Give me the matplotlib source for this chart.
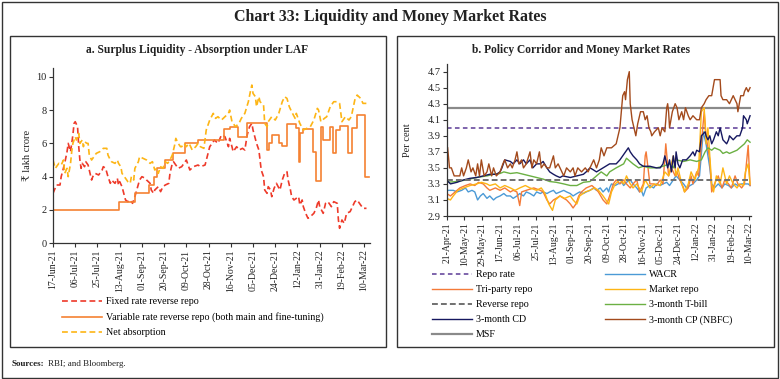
import matplotlib
matplotlib.use("Agg")
import matplotlib.pyplot as plt
from matplotlib.patches import Rectangle
import numpy as np
import pandas as pd

plt.rcParams["font.family"] = ["Liberation Serif", "DejaVu Serif", "DejaVu Sans"]

# ==========================
# panel a : surplus liquidity (lakh crore), days counted from 17-Jun-21
# ==========================
START_A = "2021-06-17"

fixed_days = [0, 3, 6, 7, 10, 12, 13, 15, 17, 18, 19, 21, 22, 23, 24, 25, 27, 28, 30, 31,
              33, 34, 36, 39, 42, 43, 45, 47, 49, 50, 53, 55, 56, 57, 59, 62, 64, 66, 68, 70,
              72, 74, 76, 79, 80, 83, 84, 86, 87, 90, 92, 94, 96, 99, 100, 102, 103, 105, 107, 110,
              112, 114, 116, 117, 120, 124, 126, 130, 134, 138, 141, 144, 147, 150, 151, 153, 154, 157, 159, 162,
              164, 166, 168, 170, 171, 174, 176, 177, 178, 180, 181, 183, 184, 186, 187, 189, 191, 194, 196, 198,
              200, 201, 203, 204, 206, 208, 210, 211, 213, 214, 216, 218, 220, 223, 225, 227, 228, 231, 233, 235,
              238, 240, 243, 244, 245, 247, 249, 251, 254, 256, 258, 260, 263, 265, 268]
fixed_vals = [3.0, 3.5, 3.5, 4.0, 4.8, 5.5, 6.0, 5.5, 6.5, 7.2, 7.3, 7.0, 5.8, 5.0, 4.5, 4.8, 4.6, 4.9, 4.7, 4.4,
              3.8, 4.0, 4.2, 4.1, 4.4, 4.6, 4.5, 4.0, 3.6, 3.8, 3.6, 3.9, 3.5, 3.7, 3.4, 2.6, 2.5, 2.6, 2.4, 2.8,
              3.3, 3.8, 4.0, 3.9, 3.8, 3.6, 3.2, 3.0, 3.2, 3.4, 3.1, 3.4, 3.5, 3.6, 4.2, 4.8, 4.9, 4.7, 4.5, 4.6,
              4.8, 5.0, 4.6, 4.4, 4.6, 4.7, 4.6, 4.7, 5.8, 6.2, 6.0, 6.5, 6.4, 5.8, 6.3, 5.8, 5.5, 5.8, 5.6, 5.7,
              5.6, 6.5, 7.0, 7.2, 6.8, 6.0, 5.6, 5.0, 4.4, 4.0, 3.2, 3.0, 3.4, 3.2, 2.8, 3.3, 3.6, 3.2, 3.8, 4.2,
              4.3, 3.8, 3.2, 2.8, 2.6, 2.7, 2.8, 2.3, 2.6, 2.2, 1.8, 1.5, 1.6, 1.8, 2.1, 2.6, 2.2, 1.8, 2.4, 2.5,
              2.2, 2.5, 2.4, 1.4, 0.9, 1.4, 1.2, 1.8, 1.9, 2.2, 2.5, 2.6, 2.3, 2.1, 2.1]

var_days = [0, 56, 70, 82, 86, 89, 96, 103, 113, 124, 146, 151, 158, 166, 183, 185, 187, 193, 196, 200,
            208, 210, 211, 214, 222, 225, 229, 231, 237, 239, 242, 245, 252, 256, 260, 267, 270]
var_vals = [2.0, 2.5, 3.0, 3.5, 4.0, 4.5, 5.0, 5.4, 6.0, 6.2, 6.85, 7.0, 6.4, 7.2, 5.6, 6.0, 6.5, 6.0, 5.85, 7.15,
            6.9, 4.9, 6.6, 6.85, 5.5, 3.75, 7.0, 6.2, 7.0, 5.4, 6.8, 7.05, 5.4, 6.95, 7.7, 4.0, 4.0]

net_days = [0, 2, 5, 7, 9, 10, 12, 13, 15, 16, 17, 19, 20, 22, 23, 25, 26, 27, 29, 30,
            31, 33, 35, 37, 40, 43, 46, 47, 49, 50, 53, 55, 56, 58, 59, 61, 63, 64, 66, 67,
            69, 70, 73, 74, 77, 80, 83, 85, 87, 89, 90, 92, 94, 96, 98, 100, 102, 104, 105, 107,
            109, 110, 112, 114, 116, 117, 119, 122, 124, 126, 129, 131, 134, 137, 139, 141, 144, 147, 150, 151,
            153, 154, 156, 159, 161, 164, 167, 169, 170, 171, 173, 174, 176, 177, 180, 181, 183, 184, 187, 190,
            193, 196, 198, 200, 202, 204, 207, 208, 211, 214, 217, 220, 223, 226, 227, 229, 232, 234, 237, 240,
            243, 245, 247, 250, 253, 255, 258, 260, 263, 265, 268]
net_vals = [5.0, 4.5, 4.8, 4.7, 5.0, 4.2, 4.5, 4.0, 4.8, 5.5, 6.0, 6.4, 6.2, 6.6, 6.0, 6.2, 5.8, 6.1, 6.0, 6.0,
            5.3, 5.0, 5.2, 5.4, 5.5, 5.7, 5.7, 5.3, 5.0, 4.9, 4.8, 5.0, 4.8, 4.6, 4.2, 4.0, 3.8, 3.7, 3.6, 4.0,
            3.8, 4.5, 4.9, 5.2, 5.1, 5.0, 4.8, 4.9, 4.4, 4.5, 4.2, 4.6, 4.5, 4.9, 4.8, 5.0, 5.3, 5.9, 6.3, 6.0,
            5.8, 5.8, 6.0, 5.8, 6.0, 5.9, 5.6, 5.8, 6.0, 5.8, 5.7, 6.8, 7.4, 7.8, 7.5, 7.6, 7.4, 7.6, 7.8, 8.0,
            7.3, 7.2, 7.0, 7.2, 7.5, 7.8, 8.5, 9.2, 9.5, 9.0, 8.8, 8.2, 8.8, 8.5, 8.3, 7.2, 7.0, 7.3, 7.6, 7.4,
            7.8, 8.5, 8.8, 8.7, 8.2, 7.9, 7.5, 7.8, 7.2, 6.8, 6.9, 7.0, 7.4, 8.1, 8.0, 7.3, 7.5, 7.6, 8.2, 8.5,
            8.5, 8.4, 7.3, 7.6, 7.4, 7.6, 8.6, 8.9, 8.7, 8.4, 8.4]

# ==========================
# panel b : policy corridor and money market rates (per cent), days from 21-Apr-21
# ==========================
START_B = "2021-04-21"
REPO = 4.0
REVERSE_REPO = 3.35
MSF = 4.25

cp_days = [1, 3, 5, 8, 14, 16, 18, 21, 23, 26, 28, 31, 33, 35, 37, 40, 43, 45, 48, 50,
           53, 57, 60, 62, 65, 68, 70, 73, 75, 77, 80, 82, 85, 89, 91, 93, 96, 99, 101, 104,
           107, 110, 114, 116, 119, 123, 125, 128, 132, 135, 137, 140, 144, 148, 151, 155, 157, 160, 163, 165,
           168, 171, 176, 181, 183, 185, 188, 190, 191, 193, 195, 196, 198, 200, 202, 204, 207, 210, 212, 214,
           216, 218, 219, 222, 226, 228, 230, 233, 235, 236, 237, 238, 241, 244, 246, 248, 251, 253, 255, 258,
           260, 263, 267, 270, 272, 275, 277, 280, 283, 286, 292, 293, 295, 299, 302, 306, 310, 311, 314, 317,
           318, 320, 322, 324]
cp_vals = [3.75, 3.5, 3.5, 3.4, 3.4, 3.5, 3.4, 3.5, 3.6, 3.45, 3.5, 3.4, 3.55, 3.4, 3.6, 3.4, 3.45, 3.55, 3.4, 3.5,
           3.4, 3.45, 3.55, 3.6, 3.5, 3.55, 3.5, 3.6, 3.7, 3.55, 3.6, 3.5, 3.55, 3.7, 3.5, 3.6, 3.55, 3.7, 3.5, 3.55,
           3.5, 3.5, 3.65, 3.5, 3.55, 3.45, 3.4, 3.5, 3.45, 3.5, 3.4, 3.5, 3.45, 3.5, 3.45, 3.55, 3.6, 3.5, 3.6, 3.75,
           3.65, 3.75, 3.75, 3.8, 3.9, 4.0, 4.4, 4.45, 4.35, 4.6, 4.7, 4.3, 4.1, 4.0, 3.9, 4.05, 4.2, 4.2, 4.1, 4.15,
           4.0, 3.95, 3.9, 3.95, 4.0, 3.9, 4.0, 3.95, 4.25, 4.3, 4.2, 4.0, 4.2, 4.3, 4.25, 4.1, 4.2, 4.1, 4.25, 4.15,
           4.1, 4.15, 4.1, 4.1, 4.25, 4.3, 4.35, 4.4, 4.4, 4.6, 4.6, 4.4, 4.35, 4.35, 4.3, 4.4, 4.3, 4.2, 4.4, 4.4,
           4.45, 4.5, 4.45, 4.5]

cd_days = [0, 4, 11, 18, 25, 32, 39, 46, 53, 57, 59, 62, 68, 71, 75, 78, 82, 85, 89, 92,
           96, 100, 103, 107, 110, 114, 117, 121, 124, 132, 139, 146, 149, 153, 156, 160, 167, 174, 181, 185,
           188, 194, 196, 199, 203, 206, 210, 217, 224, 228, 231, 233, 235, 236, 238, 240, 242, 244, 245, 247,
           249, 252, 256, 260, 263, 265, 267, 270, 272, 276, 277, 279, 281, 283, 285, 288, 290, 292, 294, 295,
           299, 301, 302, 306, 310, 313, 316, 317, 320, 321, 324]
cd_vals = [3.35, 3.3, 3.32, 3.35, 3.37, 3.38, 3.4, 3.42, 3.42, 3.45, 3.5, 3.6, 3.58, 3.55, 3.6, 3.55, 3.6, 3.55, 3.6, 3.5,
           3.55, 3.55, 3.58, 3.5, 3.45, 3.42, 3.4, 3.38, 3.4, 3.38, 3.4, 3.42, 3.45, 3.5, 3.48, 3.45, 3.5, 3.55, 3.55, 3.6,
           3.65, 3.75, 3.7, 3.65, 3.6, 3.55, 3.52, 3.52, 3.5, 3.5, 3.55, 3.65, 3.55, 3.5, 3.6, 3.45, 3.65, 3.5, 3.7, 3.55,
           3.5, 3.6, 3.6, 3.65, 3.7, 3.65, 3.72, 3.7, 3.9, 3.95, 3.9, 3.85, 3.9, 3.8, 3.85, 3.95, 3.9, 4.0, 3.9, 3.85,
           3.8, 3.85, 3.9, 3.85, 3.9, 3.9, 4.0, 4.15, 4.1, 4.05, 4.15]

tbill_days = [0, 11, 21, 32, 43, 50, 57, 61, 68, 75, 82, 89, 96, 103, 110, 117, 125, 132, 139, 146,
              153, 158, 162, 165, 171, 174, 181, 189, 192, 196, 199, 205, 210, 217, 224, 231, 238, 242, 245, 253,
              260, 267, 272, 276, 279, 283, 286, 292, 295, 299, 302, 310, 313, 318, 321, 324]
tbill_vals = [3.32, 3.33, 3.35, 3.38, 3.4, 3.42, 3.43, 3.45, 3.43, 3.44, 3.42, 3.4, 3.38, 3.36, 3.33, 3.32, 3.3, 3.28, 3.28, 3.32,
              3.33, 3.38, 3.42, 3.45, 3.4, 3.45, 3.5, 3.55, 3.62, 3.58, 3.55, 3.5, 3.52, 3.5, 3.5, 3.52, 3.55, 3.5, 3.6, 3.58,
              3.6, 3.58, 3.6, 3.7, 3.75, 3.72, 3.75, 3.72, 3.68, 3.7, 3.68, 3.72, 3.75, 3.8, 3.85, 3.82]

wacr_days = [0, 7, 11, 16, 20, 23, 27, 30, 33, 36, 39, 43, 46, 50, 53, 57, 61, 64, 68, 71,
             75, 78, 82, 85, 89, 93, 96, 100, 103, 107, 110, 114, 117, 121, 125, 128, 132, 135, 139, 142,
             146, 149, 153, 157, 160, 164, 167, 171, 173, 174, 176, 180, 183, 187, 189, 192, 196, 199, 203, 206,
             208, 210, 213, 217, 221, 224, 228, 231, 235, 238, 242, 245, 249, 253, 256, 260, 263, 267, 270, 274,
             277, 281, 283, 286, 290, 294, 297, 301, 304, 308, 311, 315, 318, 322, 324]
wacr_vals = [3.22, 3.22, 3.2, 3.22, 3.25, 3.2, 3.22, 3.2, 3.1, 3.15, 3.18, 3.12, 3.15, 3.1, 3.13, 3.15, 3.18, 3.15, 3.15, 3.12,
             3.15, 3.18, 3.15, 3.2, 3.18, 3.15, 3.2, 3.18, 3.2, 3.18, 3.2, 3.22, 3.18, 3.2, 3.22, 3.2, 3.18, 3.15, 3.18, 3.2,
             3.18, 3.2, 3.22, 3.25, 3.22, 3.25, 3.2, 3.25, 3.2, 3.25, 3.3, 3.28, 3.3, 3.32, 3.28, 3.32, 3.35, 3.3, 3.25, 3.2,
             3.22, 3.15, 3.25, 3.28, 3.25, 3.3, 3.28, 3.3, 3.32, 3.28, 3.35, 3.4, 3.35, 3.3, 3.25, 3.28, 3.3, 3.35, 3.4, 3.95,
             3.8, 3.5, 3.3, 3.25, 3.3, 3.25, 3.3, 3.28, 3.25, 3.3, 3.28, 3.3, 3.3, 3.3, 3.28]

tri_days = [0, 4, 9, 14, 20, 25, 30, 34, 39, 43, 46, 52, 57, 62, 68, 71, 75, 78, 80, 85,
            93, 100, 103, 107, 110, 114, 117, 121, 125, 128, 132, 135, 138, 141, 144, 149, 155, 158, 162, 167,
            171, 174, 178, 181, 185, 189, 192, 196, 199, 203, 206, 210, 212, 213, 217, 221, 224, 228, 231, 234,
            237, 240, 244, 246, 249, 253, 254, 258, 261, 263, 267, 269, 272, 275, 277, 281, 283, 286, 290, 294,
            297, 301, 304, 308, 311, 315, 318, 322, 324]
tri_vals = [3.18, 3.15, 3.2, 3.25, 3.28, 3.3, 3.28, 3.32, 3.3, 3.25, 3.22, 3.25, 3.22, 3.25, 3.2, 3.22, 3.2, 3.03, 3.2, 3.22,
            3.25, 3.22, 3.2, 3.1, 3.05, 3.1, 3.12, 3.15, 3.12, 3.1, 3.05, 3.0, 3.05, 3.15, 3.2, 3.25, 3.28, 3.25, 3.2, 3.1,
            3.05, 3.15, 3.3, 3.35, 3.3, 3.35, 3.3, 3.25, 3.3, 3.35, 3.2, 3.3, 3.65, 3.7, 3.3, 3.3, 3.28, 3.35, 3.3, 3.8,
            3.4, 3.5, 3.4, 3.45, 3.35, 3.25, 3.2, 3.25, 3.4, 3.3, 3.45, 3.4, 3.8, 4.2, 3.9, 3.6, 3.2, 3.3, 3.4, 3.25,
            3.35, 3.3, 3.25, 3.4, 3.3, 3.25, 3.3, 3.78, 3.28]

mkt_days = [0, 4, 7, 12, 18, 25, 32, 37, 43, 46, 52, 57, 62, 68, 73, 78, 84, 89, 96, 101,
            105, 109, 113, 116, 121, 126, 132, 135, 139, 142, 148, 153, 158, 162, 167, 173, 176, 180, 185, 189,
            192, 196, 199, 203, 208, 212, 217, 222, 228, 233, 237, 240, 242, 245, 247, 251, 254, 258, 261, 265,
            269, 272, 275, 277, 279, 283, 285, 288, 292, 295, 299, 302, 306, 310, 313, 317, 319, 322, 324]
mkt_vals = [3.12, 3.1, 3.15, 3.22, 3.25, 3.28, 3.3, 3.32, 3.3, 3.28, 3.3, 3.25, 3.28, 3.25, 3.22, 3.25, 3.28, 3.25, 3.22, 3.25,
            3.18, 3.05, 2.97, 3.1, 3.15, 3.12, 3.15, 3.1, 3.05, 3.15, 3.2, 3.22, 3.25, 3.22, 3.15, 3.05, 3.2, 3.3, 3.35, 3.3,
            3.4, 3.3, 3.25, 3.3, 3.2, 3.35, 3.25, 3.3, 3.28, 3.45, 3.4, 3.55, 3.65, 3.4, 3.5, 3.3, 3.2, 3.3, 3.45, 3.35,
            3.5, 4.2, 4.25, 3.8, 4.0, 3.3, 3.2, 3.4, 3.3, 3.5, 3.3, 3.4, 3.3, 3.25, 3.3, 3.28, 3.45, 3.55, 3.3]

# colours
C_FIXED = "#EE3A2A"
C_VAR = "#F58232"
C_NET = "#FDB515"
C_REPO = "#5B3A96"
C_WACR = "#4B9AD6"
C_TRI = "#F47A38"
C_MKT = "#FDB515"
C_REV = "#707070"
C_TBILL = "#6BB043"
C_CD = "#161860"
C_CP = "#A34A1C"
C_MSF = "#8A8A8A"

FS_TICK = 7
FS_LEG = 7.2


def to_dates(start, days):
    return pd.Timestamp(start) + pd.to_timedelta(np.array(days, dtype=float), unit="D")


def style_axis(ax):
    for s in ("top", "right"):
        ax.spines[s].set_visible(False)
    for s in ("left", "bottom"):
        ax.spines[s].set_color("#333333")
        ax.spines[s].set_linewidth(0.9)
    ax.tick_params(axis="both", direction="out", length=3, width=0.8,
                   colors="#333333", labelcolor="#222222")
    ax.tick_params(axis="x", labelsize=FS_TICK, pad=1.5)
    ax.tick_params(axis="y", labelsize=7.5, pad=1.5)


fig = plt.figure(figsize=(7.8, 3.79), dpi=100)
W, H = 780.0, 379.0


def fx(px):
    return px / W


def fy(py):
    return 1 - py / H


# frames
fig.patches.append(Rectangle((fx(1.5), fy(377.5)), fx(776), (376) / H, transform=fig.transFigure,
                             fill=False, lw=1.0, ec="#333333"))
fig.patches.append(Rectangle((fx(10), fy(347)), fx(376), (311) / H, transform=fig.transFigure,
                             fill=False, lw=1.0, ec="#333333"))
fig.patches.append(Rectangle((fx(397), fy(347)), fx(377), (311) / H, transform=fig.transFigure,
                             fill=False, lw=1.0, ec="#333333"))

fig.text(0.5, fy(17), "Chart 33: Liquidity and Money Market Rates", ha="center", va="center",
         fontsize=11.5, fontweight="bold", color="#222222")

# ---------------- panel a ----------------
axa = fig.add_axes([fx(53), fy(243.3), fx(370 - 53), (243.3 - 68.4) / H])
style_axis(axa)
fig.text(fx(197), fy(50), "a. Surplus Liquidity - Absorption under LAF", ha="center", va="center",
         fontsize=8.3, fontweight="bold", color="#222222")

l_fixed, = axa.plot(to_dates(START_A, fixed_days), fixed_vals, color=C_FIXED, lw=1.2,
                    dashes=(3.5, 2.0), label="Fixed rate reverse repo")
l_var, = axa.step(to_dates(START_A, var_days), var_vals, where="post", color=C_VAR, lw=1.2,
                  label="Variable rate reverse repo (both main and fine-tuning)")
l_net, = axa.plot(to_dates(START_A, net_days), net_vals, color=C_NET, lw=1.2,
                  dashes=(3.5, 2.0), label="Net absorption")

ticks_a = pd.date_range(START_A, periods=15, freq="19D")
axa.set_xticks(ticks_a)
axa.set_xticklabels([d.strftime("%d-%b-%y") for d in ticks_a], rotation=90)
axa.set_xlim(pd.Timestamp(START_A), pd.Timestamp(START_A) + pd.Timedelta(days=271))
axa.set_ylim(0, 10.5)
axa.set_yticks([0, 2, 4, 6, 8, 10])
axa.set_ylabel("₹ lakh crore", fontsize=7.5, color="#222222")
axa.yaxis.set_label_coords(-0.066, 0.5)

leg_kw = dict(loc="upper left", frameon=False, fontsize=FS_LEG, handlelength=4.0, handletextpad=0.4,
              labelspacing=0.6, borderpad=0, borderaxespad=0)
fig.legend(handles=[l_fixed, l_var, l_net], bbox_to_anchor=(fx(62), fy(297.5)), **leg_kw)

# ---------------- panel b ----------------
axb = fig.add_axes([fx(446.7), fy(216), fx(751 - 446.7), (216 - 63.6) / H])
style_axis(axb)
fig.text(fx(581), fy(50), "b. Policy Corridor and Money Market Rates", ha="center", va="center",
         fontsize=8.3, fontweight="bold", color="#222222")

l_msf = axb.axhline(MSF, color=C_MSF, lw=1.6, label="MSF")
l_repo = axb.axhline(REPO, color=C_REPO, lw=1.1, dashes=(3.0, 2.2), label="Repo rate")
l_wacr, = axb.plot(to_dates(START_B, wacr_days), wacr_vals, color=C_WACR, lw=1.0, label="WACR")
l_tri, = axb.plot(to_dates(START_B, tri_days), tri_vals, color=C_TRI, lw=1.0, label="Tri-party repo")
l_mkt, = axb.plot(to_dates(START_B, mkt_days), mkt_vals, color=C_MKT, lw=1.0, label="Market repo")
l_tbill, = axb.plot(to_dates(START_B, tbill_days), tbill_vals, color=C_TBILL, lw=1.0, label="3-month T-bill")
l_cd, = axb.plot(to_dates(START_B, cd_days), cd_vals, color=C_CD, lw=1.0, label="3-month CD")
l_cp, = axb.plot(to_dates(START_B, cp_days), cp_vals, color=C_CP, lw=1.0, label="3-month CP (NBFC)")
l_rev = axb.axhline(REVERSE_REPO, color=C_REV, lw=1.4, dashes=(3.0, 1.6), label="Reverse repo")

ticks_b = pd.date_range(START_B, periods=18, freq="19D")
axb.set_xticks(ticks_b)
axb.set_xticklabels([d.strftime("%d-%b-%y") for d in ticks_b], rotation=90)
axb.set_xlim(pd.Timestamp(START_B), pd.Timestamp(START_B) + pd.Timedelta(days=325))
axb.set_ylim(2.9, 4.8)
axb.set_yticks(np.arange(2.9, 4.71, 0.2))
axb.set_yticklabels([f"{v:.1f}" for v in np.arange(2.9, 4.71, 0.2)])
axb.set_ylabel("Per cent", fontsize=7.5, color="#222222")
axb.yaxis.set_label_coords(-0.114, 0.5)

fig.legend(handles=[l_repo, l_tri, l_rev, l_cd, l_msf], bbox_to_anchor=(fx(432), fy(270)), **leg_kw)
fig.legend(handles=[l_wacr, l_mkt, l_tbill, l_cp], bbox_to_anchor=(fx(605), fy(270)), **leg_kw)

# sources line
t1 = fig.text(fx(12), fy(364), "Sources:", ha="left", va="center", fontsize=6.5,
              fontweight="bold", color="#222222")
fig.canvas.draw()
bb = t1.get_window_extent(renderer=fig.canvas.get_renderer())
fig.text(bb.x1 / W + fx(3), fy(364), "RBI; and Bloomberg.", ha="left", va="center",
         fontsize=6.5, color="#222222")

fig.savefig("out.png", dpi=100)
